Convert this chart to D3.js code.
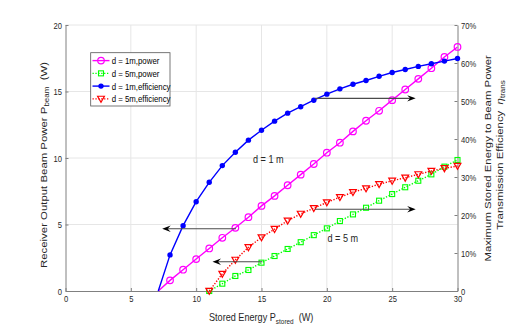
<!DOCTYPE html>
<html><head><meta charset="utf-8">
<script src="https://cdn.jsdelivr.net/npm/d3@7"></script>
<style>
html,body{margin:0;padding:0;background:#fff;}
svg{display:block;font-family:"Liberation Sans",Arial,Helvetica,sans-serif;}
</style></head>
<body>
<svg id="chart" width="507" height="327"></svg>
<script>
// ---------- data ----------
const xOneM = [7.1, 8, 9, 10, 11, 12, 13, 14, 15, 16, 17, 18, 19, 20, 21, 22, 23, 24, 25, 26, 27, 28, 29, 30];
const powerOneM = [0, 0.8, 1.6, 2.4, 3.2, 4.0, 4.75, 5.55, 6.4, 7.15, 7.95, 8.75, 9.55, 10.4, 11.15, 12.0, 12.8, 13.55, 14.35, 15.15, 15.95, 16.75, 17.6, 18.35];
const effOneM = [0, 9.5, 17.2, 23.5, 28.6, 33.0, 36.5, 39.7, 42.3, 44.7, 46.8, 48.5, 50.2, 51.8, 53.2, 54.4, 55.4, 56.5, 57.5, 58.3, 59.1, 59.8, 60.5, 61.2];
const xFiveM = [11, 12, 13, 14, 15, 16, 17, 18, 19, 20, 21, 22, 23, 24, 25, 26, 27, 28, 29, 30];
const powerFiveM = [0, 0.55, 1.13, 1.58, 2.13, 2.63, 3.16, 3.67, 4.2, 4.71, 5.26, 5.76, 6.26, 6.79, 7.29, 7.8, 8.29, 8.77, 9.35, 9.85];
const effFiveM = [0, 4.5, 8.2, 11.5, 14.1, 16.3, 18.5, 20.3, 21.8, 23.3, 24.7, 26.0, 27.0, 28.1, 29.0, 29.8, 30.7, 31.6, 32.3, 32.9];
const legendLabels = ["d = 1m,power", "d = 5m,power", "d = 1m,efficiency", "d = 5m,efficiency"];
const xTicks = [0, 5, 10, 15, 20, 25, 30];
const yLeftTicks = [0, 5, 10, 15, 20];
const yRightTicks = [0, 10, 20, 30, 40, 50, 60, 70];
// annotation arrows: [x start, x tip, y value, axis]
const arrows = [
  {x1: 13.05, x2: 7.4, y: 4.68, axis: "left"},
  {x1: 15.05, x2: 11.25, y: 2.2, axis: "left"},
  {x1: 19.1, x2: 26.8, y: 50.7, axis: "right"},
  {x1: 19.1, x2: 26.8, y: 21.5, axis: "right"}
];
const notes = [
  {text: "d = 1 m", x: 14.35, y: 9.6, axis: "left"},
  {text: "d = 5 m", x: 20.05, y: 3.65, axis: "left"}
];

// ---------- layout ----------
const SX = 0.8; // horizontal squeeze of text in the reference
const L = 65.5, R = 457.5, T = 25, B = 291;
const svg = d3.select("#chart");
const x = d3.scaleLinear().domain([0, 30]).range([L, R]);
const yL = d3.scaleLinear().domain([0, 20]).range([B, T]);
const yR = d3.scaleLinear().domain([0, 70]).range([B, T]);
const axisCol = "#808080", labCol = "#262626";

// grid
const grid = svg.append("g");
xTicks.filter(v => v > 0 && v < 30).forEach(v => {
  grid.append("line").attr("x1", x(v)).attr("x2", x(v)).attr("y1", T).attr("y2", B)
    .attr("stroke", "#e6e6e6").attr("stroke-width", 1);
});
yLeftTicks.filter(v => v > 0).forEach(v => {
  grid.append("line").attr("x1", L).attr("x2", R).attr("y1", yL(v)).attr("y2", yL(v))
    .attr("stroke", "#e6e6e6").attr("stroke-width", 1);
});

function styleAxis(g) {
  g.select(".domain").attr("stroke", axisCol);
  g.selectAll(".tick line").attr("stroke", axisCol);
  g.selectAll(".tick text").attr("fill", labCol)
    .style("font-size", "9.5px")
    .attr("x", function () { return (+d3.select(this).attr("x") || 0) / SX; })
    .attr("transform", `scale(${SX},1)`);
}
const gx = svg.append("g").attr("transform", `translate(0,${B})`)
  .call(d3.axisBottom(x).tickValues(xTicks).tickSizeInner(-3).tickSizeOuter(0).tickPadding(4).tickFormat(d3.format("d")));
styleAxis(gx);
const gyl = svg.append("g").attr("transform", `translate(${L},0)`)
  .call(d3.axisLeft(yL).tickValues(yLeftTicks).tickSizeInner(-3).tickSizeOuter(0).tickPadding(3.5).tickFormat(d3.format("d")));
styleAxis(gyl);
const gyr = svg.append("g").attr("transform", `translate(${R},0)`)
  .call(d3.axisRight(yR).tickValues(yRightTicks).tickSizeInner(-3).tickSizeOuter(0).tickPadding(3.5)
    .tickFormat(d => d === 0 ? "0" : d + "%"));
styleAxis(gyr);
svg.selectAll(".tick text").style("font-family", '"Liberation Sans",Arial,sans-serif');

// ---------- series ----------
function series(xs, ys, yScale, color, dashed) {
  const pts = xs.map((v, i) => [x(v), yScale(ys[i])]);
  svg.append("path").attr("d", d3.line()(pts)).attr("fill", "none")
    .attr("stroke", color).attr("stroke-width", 1.4)
    .attr("stroke-dasharray", dashed ? "1.3,1.6" : null);
  return xs.map((v, i) => ({x: x(v), y: yScale(ys[i]), show: Number.isInteger(v)})).filter(d => d.show);
}
function marker(g, type, cx, cy, color) {
  if (type === "circle") {
    g.append("circle").attr("cx", cx).attr("cy", cy).attr("r", 3.3)
      .attr("fill", "none").attr("stroke", color).attr("stroke-width", 1.2);
  } else if (type === "dot") {
    g.append("circle").attr("cx", cx).attr("cy", cy).attr("r", 2.7).attr("fill", color);
  } else if (type === "square") {
    g.append("rect").attr("x", cx - 2.5).attr("y", cy - 2.5).attr("width", 5).attr("height", 5)
      .attr("fill", "none").attr("stroke", color).attr("stroke-width", 1.1);
  } else if (type === "tri") {
    g.append("path").attr("d", `M${cx - 3.4},${cy - 2.6}L${cx + 3.4},${cy - 2.6}L${cx},${cy + 3.4}Z`)
      .attr("fill", "none").attr("stroke", color).attr("stroke-width", 1.2);
  }
}
const defs = [
  {xs: xOneM, ys: powerOneM, s: yL, c: "#ff00ff", d: false, m: "circle"},
  {xs: xFiveM, ys: powerFiveM, s: yL, c: "#00ff00", d: true, m: "square"},
  {xs: xOneM, ys: effOneM, s: yR, c: "#0000ff", d: false, m: "dot"},
  {xs: xFiveM, ys: effFiveM, s: yR, c: "#ff0000", d: true, m: "tri"}
];
defs.forEach(sd => {
  const pts = series(sd.xs, sd.ys, sd.s, sd.c, sd.d);
  const g = svg.append("g");
  pts.forEach(p => marker(g, sd.m, p.x, p.y, sd.c));
});

// ---------- arrows ----------
arrows.forEach(a => {
  const sc = a.axis === "left" ? yL : yR;
  const y = sc(a.y), x1 = x(a.x1), x2 = x(a.x2);
  const dir = x2 > x1 ? 1 : -1;
  const Lh = 8.5, W = 3.2, notch = 3;
  svg.append("line").attr("x1", x1).attr("x2", x2 - dir * (Lh - notch)).attr("y1", y).attr("y2", y)
    .attr("stroke", "#4a4a4a").attr("stroke-width", 1.1);
  svg.append("path")
    .attr("d", `M${x2},${y}L${x2 - dir * Lh},${y - W}L${x2 - dir * (Lh - notch)},${y}L${x2 - dir * Lh},${y + W}Z`)
    .attr("fill", "#000");
});

// ---------- text helper ----------
function txt(px, py, rot, anchor, size) {
  return svg.append("text")
    .attr("transform", `translate(${px},${py}) scale(${SX},1)` + (rot ? " rotate(-90)" : ""))
    .attr("text-anchor", anchor).attr("fill", labCol).style("font-size", size + "px");
}
notes.forEach(n => {
  const sc = n.axis === "left" ? yL : yR;
  txt(x(n.x), sc(n.y), false, "start", 11.4).text(n.text);
});

// x label
const xl = txt(209, 320.5, false, "start", 11.4);
xl.append("tspan").text("Stored Energy P");
xl.append("tspan").attr("dy", 3.5).style("font-size", "8px").text("stored");
xl.append("tspan").attr("dy", -3.5).text("\u00a0 (W)");

// left y label
const yl = txt(46.5, 268, true, "start", 11.4);
yl.append("tspan").text("Receiver Output Beam Power P");
yl.append("tspan").attr("dy", 3.5).style("font-size", "8px").text("beam");
yl.append("tspan").attr("dy", -3.5).text("\u00a0 (W)");

// right y label
txt(491, 158.3, true, "middle", 11.4).text("Maximum Stored Energy to Beam Power");
const yr2 = txt(502.5, 155, true, "middle", 11.4);
yr2.append("tspan").text("Transmission Efficiency\u00a0 ");
yr2.append("tspan").style("font-style", "italic").text("\u03b7");
yr2.append("tspan").attr("dy", 3.5).style("font-size", "8px").text("trans");

// ---------- legend ----------
const lg = svg.append("g");
lg.append("rect").attr("x", 90.7).attr("y", 52.7).attr("width", 79.3).attr("height", 53.3)
  .attr("fill", "#fff").attr("stroke", "#555").attr("stroke-width", 0.8);
legendLabels.forEach((lab, i) => {
  const sd = defs[i];
  const yy = 60.6 + i * 12.75;
  lg.append("line").attr("x1", 92.5).attr("x2", 109.5).attr("y1", yy).attr("y2", yy)
    .attr("stroke", sd.c).attr("stroke-width", 1.4).attr("stroke-dasharray", sd.d ? "1.3,1.6" : null);
  marker(lg, sd.m, 101, yy, sd.c);
  lg.append("text").attr("transform", `translate(111.7,${yy + 3.4}) scale(${SX},1)`)
    .attr("fill", "#000").style("font-size", "9.8px").text(lab);
});
</script>
</body></html>
